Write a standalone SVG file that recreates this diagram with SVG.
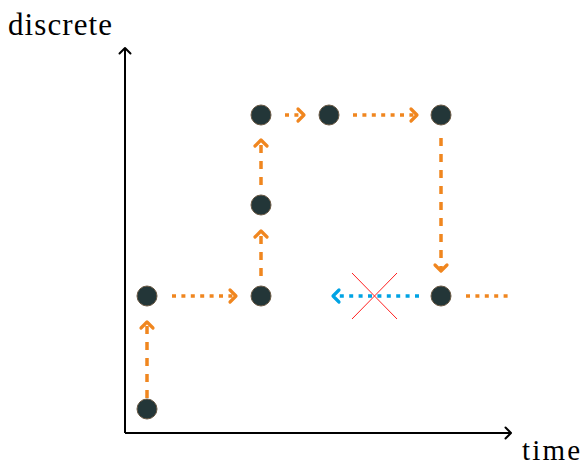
<svg xmlns="http://www.w3.org/2000/svg" width="585" height="467" viewBox="0 0 585 467">
<style>
.node{fill:#233638;stroke:#6b5a45;stroke-width:1}
.ax{stroke:#000;stroke-width:2;fill:none}
.o{stroke:#f0861f;stroke-width:3.5;fill:none}
.b{stroke:#00a3e4;stroke-width:3.5;fill:none}
.dot{stroke-dasharray:4 5.4}
.dash{stroke-dasharray:8 8}
</style>
<defs>
<marker id="ho" markerUnits="userSpaceOnUse" viewBox="-8 -8 10 16" markerWidth="10" markerHeight="16" refX="0" refY="0" orient="auto" overflow="visible">
<path d="M-6,-6 L0,0 L-6,6" fill="none" stroke="#f0861f" stroke-width="3.2" stroke-linecap="round" stroke-linejoin="round"/>
</marker>
<marker id="hb" markerUnits="userSpaceOnUse" viewBox="-8 -8 10 16" markerWidth="10" markerHeight="16" refX="0" refY="0" orient="auto" overflow="visible">
<path d="M-6,-6 L0,0 L-6,6" fill="none" stroke="#00a3e4" stroke-width="3.2" stroke-linecap="round" stroke-linejoin="round"/>
</marker>
<marker id="hk" markerUnits="userSpaceOnUse" viewBox="-8 -8 10 16" markerWidth="10" markerHeight="16" refX="0" refY="0" orient="auto" overflow="visible">
<path d="M-5.5,-5.5 L0,0 L-5.5,5.5" fill="none" stroke="#000" stroke-width="2" stroke-linecap="round" stroke-linejoin="round"/>
</marker>
</defs>
<rect width="585" height="467" fill="#fff"/>
<g id="axes">
<path class="ax" d="M125,433 L125,48" marker-end="url(#hk)"/>
<path class="ax" d="M125,433 L511,433" marker-end="url(#hk)"/>
<text x="8" y="35" font-family="Liberation Serif, Times New Roman, serif" font-size="31" fill="#000" textLength="104" lengthAdjust="spacing">discrete</text>
<text x="522" y="460" font-family="Liberation Serif, Times New Roman, serif" font-size="29" fill="#000" textLength="58" lengthAdjust="spacing">time</text>
</g>
<g id="connectors">
<path class="o dash" d="M147,398 L147,322" marker-end="url(#ho)"/>
<path class="o dot" d="M172,296 L236,296" marker-end="url(#ho)"/>
<path class="o dash" d="M261,276 L261,231" marker-end="url(#ho)"/>
<path class="o dash" d="M261,185 L261,140" marker-end="url(#ho)"/>
<path class="o dot" d="M285,115 L304,115" marker-end="url(#ho)"/>
<path class="o dot" d="M353,115 L417,115" marker-end="url(#ho)"/>
<path class="o dash" d="M441,138 L441,271" marker-end="url(#ho)"/>
<path class="b dot" d="M419,296 L333,296" marker-end="url(#hb)"/>
<path class="o dot" d="M466,296 L510,296"/>
<path d="M352,273 L397,319 M397,273 L352,319" stroke="#ff2020" stroke-width="1" fill="none"/>
</g>
<g id="n1"><circle class="node" cx="147" cy="409" r="10"/></g>
<g id="n2"><circle class="node" cx="147" cy="296" r="10"/></g>
<g id="n3"><circle class="node" cx="261" cy="296" r="10"/></g>
<g id="n4"><circle class="node" cx="261" cy="205" r="10"/></g>
<g id="n5"><circle class="node" cx="261" cy="115" r="10"/></g>
<g id="n6"><circle class="node" cx="329" cy="115" r="10"/></g>
<g id="n7"><circle class="node" cx="441" cy="115" r="10"/></g>
<g id="n8"><circle class="node" cx="441" cy="296" r="10"/></g>
</svg>
